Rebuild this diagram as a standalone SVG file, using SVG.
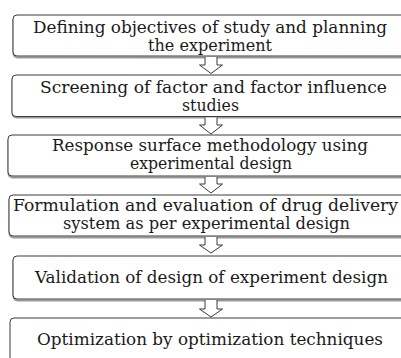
<svg xmlns="http://www.w3.org/2000/svg" width="401" height="358" viewBox="0 0 401 358">
<style>
.box{fill:#fff;stroke:#3a3a3a;stroke-width:1}
.sh{fill:none;stroke:#9a9a9a;stroke-width:2}
text{font-family:'DejaVu Serif',serif;font-size:16px;fill:#1a1a1a;text-anchor:middle}
.arr{fill:#fff;stroke:#3a3a3a;stroke-width:1}
</style>
<rect width="401" height="358" fill="#fff"/>
<g id="n1">
<rect class="sh" x="13.5" y="16.5" width="400" height="41" rx="4"/>
<rect class="box" x="13" y="15" width="400" height="41" rx="4"/>
<text x="210" y="32.5" textLength="354" lengthAdjust="spacingAndGlyphs">Defining objectives of study and planning</text>
<text x="210" y="50.5" textLength="124" lengthAdjust="spacingAndGlyphs">the experiment</text>
</g>
<g id="n2">
<rect class="sh" x="12.5" y="76.5" width="400" height="41" rx="4"/>
<rect class="box" x="12" y="75" width="400" height="41.5" rx="4"/>
<text x="213.5" y="93" textLength="347" lengthAdjust="spacingAndGlyphs">Screening of factor and factor influence</text>
<text x="210.5" y="111" textLength="57" lengthAdjust="spacingAndGlyphs">studies</text>
</g>
<g id="n3">
<rect class="sh" x="8.5" y="136.5" width="400" height="41" rx="4"/>
<rect class="box" x="8" y="135" width="400" height="41" rx="4"/>
<text x="210" y="151" textLength="316" lengthAdjust="spacingAndGlyphs">Response surface methodology using</text>
<text x="211" y="169" textLength="162" lengthAdjust="spacingAndGlyphs">experimental design</text>
</g>
<g id="n4">
<rect class="sh" x="9.5" y="196.5" width="400" height="41" rx="4"/>
<rect class="box" x="9" y="195" width="400" height="41" rx="4"/>
<text x="205.5" y="211" textLength="385" lengthAdjust="spacingAndGlyphs">Formulation and evaluation of drug delivery</text>
<text x="206.5" y="229" textLength="287" lengthAdjust="spacingAndGlyphs">system as per experimental design</text>
</g>
<g id="n5">
<rect class="sh" x="13.5" y="257.5" width="400" height="43" rx="4"/>
<rect class="box" x="13" y="256" width="400" height="43" rx="4"/>
<text x="211.5" y="283" textLength="353" lengthAdjust="spacingAndGlyphs">Validation of design of experiment design</text>
</g>
<g id="n6">
<rect class="box" x="10" y="318" width="400" height="60" rx="4"/>
<text x="210" y="345" textLength="346" lengthAdjust="spacingAndGlyphs">Optimization by optimization techniques</text>
</g>
<g id="connectors">
<path class="arr" d="M205,57 V65 H199.5 L211,73.5 L222.5,65 H217 V57"/>
<path class="arr" d="M205,117.5 V125 H199.5 L211,134 L222.5,125 H217 V117.5"/>
<path class="arr" d="M205,177 V184 H199.5 L211,193 L222.5,184 H217 V177"/>
<path class="arr" d="M205,237 V245 H199.5 L211,253 L222.5,245 H217 V237"/>
<path class="arr" d="M205,300 V309 H199.5 L211,317 L222.5,309 H217 V300"/>
</g>
</svg>
